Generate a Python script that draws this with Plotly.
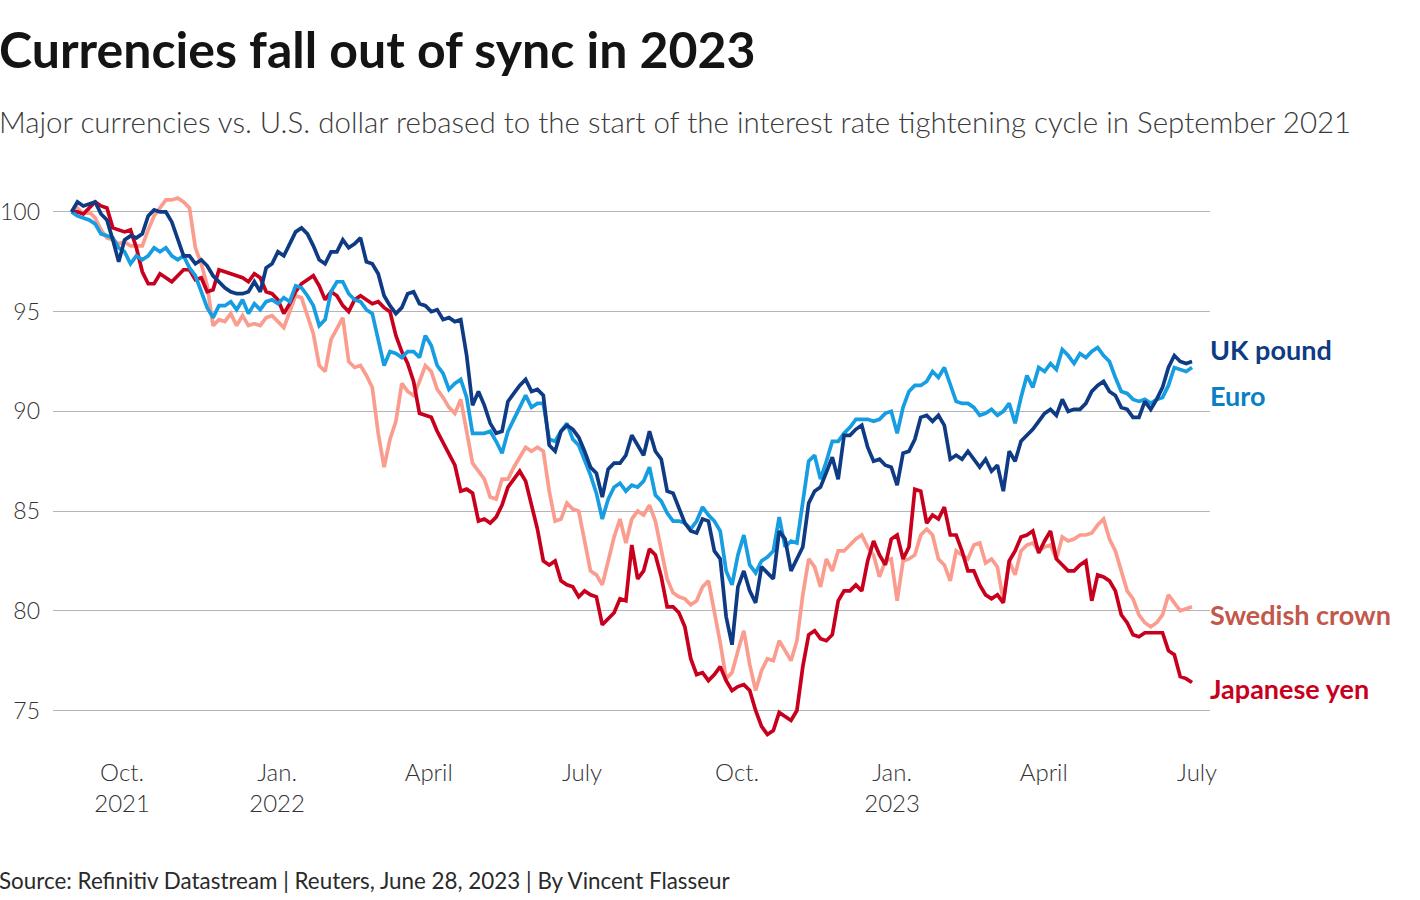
import pandas as pd
import plotly.graph_objects as go

# ---- data: rebased index (=100 at start), read twice a week ----
# values on Wednesdays (w) and on the following Saturdays (s)
start_date = "2021-09-01"

uk_pound_w = [100.0, 100.3, 100.5, 99.6, 97.5, 98.8, 98.9, 100.1, 100.0, 98.7,
              97.8, 97.6, 96.8, 96.2, 95.9, 96.0, 96.0, 97.4, 97.8, 99.0,
              98.9, 97.6, 98.0, 98.6, 98.4, 97.5, 96.9, 95.3, 95.2, 96.0,
              95.3, 95.1, 94.7, 94.6, 90.3, 90.3, 88.9, 90.5, 91.3, 91.0,
              90.8, 88.0, 89.3, 88.7, 87.2, 85.7, 87.4, 87.8, 88.3, 89.0,
              87.6, 85.9, 84.4, 83.9, 84.5, 82.6, 78.3, 82.0, 80.4, 81.9,
              84.0, 82.0, 83.2, 86.0, 87.0, 86.6, 88.8, 89.3, 87.5, 87.3,
              86.3, 88.0, 89.7, 89.5, 89.3, 87.8, 88.0, 87.2, 87.0, 86.0,
              87.5, 88.8, 89.5, 90.1, 90.6, 90.1, 90.4, 91.3, 91.0, 90.2,
              89.7, 90.5, 90.6, 92.2, 92.5, 92.5]
uk_pound_s = [100.5, 100.4, 99.9, 98.6, 98.6, 98.7, 99.8, 100.0, 99.5, 97.8,
              97.4, 97.3, 96.5, 96.0, 95.9, 96.5, 97.2, 98.0, 98.4, 99.2,
              98.3, 97.4, 98.0, 98.2, 98.7, 97.4, 95.8, 94.9, 95.9, 95.4,
              95.0, 94.6, 94.5, 92.8, 91.0, 89.4, 89.0, 90.9, 91.6, 91.1,
              88.3, 89.0, 89.1, 88.0, 86.9, 87.1, 87.4, 88.8, 87.8, 88.0,
              86.0, 85.2, 84.0, 84.6, 83.0, 79.7, 81.2, 81.0, 82.2, 81.6,
              83.6, 82.6, 85.4, 86.2, 87.7, 88.8, 89.1, 88.2, 87.6, 87.2,
              87.9, 88.6, 89.8, 89.8, 87.6, 87.6, 87.6, 87.6, 87.3, 88.0,
              88.5, 89.1, 89.9, 89.8, 90.0, 90.1, 91.0, 91.5, 90.8, 90.1,
              89.7, 90.1, 91.2, 92.8, 92.4]

euro_w = [100.0, 99.7, 99.4, 98.8, 98.2, 97.4, 97.6, 98.2, 98.2, 97.6,
          97.2, 96.0, 94.7, 95.3, 95.1, 94.9, 95.1, 95.6, 95.7, 96.3,
          95.8, 94.3, 96.0, 96.5, 95.6, 95.1, 93.6, 93.0, 92.7, 93.0,
          93.8, 92.3, 91.1, 91.6, 88.9, 88.9, 88.5, 89.0, 90.2, 90.2,
          90.4, 88.5, 89.4, 88.3, 86.8, 84.6, 86.2, 86.0, 86.2, 87.2,
          85.5, 84.5, 84.4, 84.5, 84.8, 84.0, 81.3, 83.8, 81.9, 82.7,
          84.7, 83.5, 85.4, 87.8, 87.5, 88.5, 89.2, 89.6, 89.5, 89.9,
          88.9, 91.0, 91.3, 92.0, 92.2, 90.5, 90.4, 89.8, 90.1, 90.0,
          89.4, 91.8, 92.2, 92.4, 93.1, 92.4, 92.7, 93.2, 92.5, 91.0,
          90.6, 90.6, 90.6, 91.3, 92.1, 92.2]
euro_s = [99.8, 99.6, 98.9, 98.7, 98.0, 97.8, 97.8, 98.0, 97.8, 97.8,
          96.8, 95.2, 95.3, 95.5, 95.6, 95.4, 95.5, 95.4, 95.5, 96.2,
          95.3, 94.6, 96.5, 95.9, 95.5, 94.9, 92.3, 92.9, 93.0, 92.7,
          93.3, 91.9, 91.4, 90.7, 88.9, 89.0, 87.9, 89.6, 90.8, 90.4,
          88.6, 89.0, 88.6, 87.6, 85.9, 85.6, 86.4, 86.3, 86.5, 85.8,
          84.9, 84.5, 84.1, 85.2, 84.5, 82.0, 82.8, 82.3, 82.5, 83.0,
          83.2, 83.4, 87.5, 86.6, 88.5, 88.9, 89.6, 89.6, 89.6, 90.0,
          90.2, 91.3, 91.5, 91.7, 91.4, 90.4, 90.2, 89.9, 89.8, 90.4,
          90.7, 91.2, 92.0, 92.1, 92.8, 92.9, 93.0, 92.8, 91.7, 90.9,
          90.5, 90.4, 90.7, 92.2, 92.0]

swedish_crown_w = [100.0, 99.9, 99.7, 98.7, 98.4, 98.3, 98.3, 99.8, 100.6, 100.7,
                   100.2, 97.4, 94.3, 94.5, 94.3, 94.3, 94.3, 94.8, 94.2, 95.8,
                   94.8, 92.3, 93.6, 94.7, 92.2, 91.8, 88.9, 88.6, 91.4, 90.8,
                   92.3, 91.1, 90.2, 90.6, 87.4, 86.6, 85.6, 86.6, 87.7, 88.0,
                   88.0, 84.5, 85.4, 85.0, 82.0, 81.3, 83.7, 83.4, 85.0, 85.3,
                   83.0, 80.9, 80.6, 80.5, 81.5, 78.4, 76.9, 79.0, 76.0, 77.6,
                   78.5, 77.5, 80.8, 82.2, 82.6, 83.0, 83.3, 83.8, 82.8, 82.5,
                   80.5, 82.6, 83.8, 83.8, 82.3, 83.0, 82.6, 83.4, 82.6, 80.5,
                   81.8, 83.3, 83.0, 83.3, 83.7, 83.6, 83.8, 84.3, 83.6, 82.0,
                   80.6, 79.4, 79.4, 80.8, 80.0, 80.2]
swedish_crown_s = [100.2, 100.0, 99.1, 98.6, 98.5, 98.3, 99.1, 100.2, 100.6, 100.5,
                   98.2, 96.3, 94.6, 94.9, 94.8, 94.4, 94.7, 94.5, 95.0, 95.7,
                   93.9, 92.0, 94.2, 92.5, 92.3, 91.2, 87.2, 89.5, 91.0, 91.5,
                   92.0, 90.7, 89.9, 89.0, 87.0, 85.7, 86.6, 87.2, 88.2, 88.2,
                   86.0, 84.6, 85.1, 83.5, 81.8, 82.5, 84.6, 84.6, 84.8, 84.5,
                   81.6, 80.7, 80.3, 81.2, 80.0, 76.6, 78.0, 77.3, 77.0, 77.5,
                   78.0, 78.5, 82.6, 81.2, 82.0, 83.0, 83.6, 83.2, 81.7, 82.6,
                   82.5, 82.8, 84.1, 82.6, 81.5, 82.8, 83.3, 82.4, 82.2, 82.5,
                   83.0, 83.4, 83.2, 82.6, 83.5, 83.8, 83.9, 84.6, 83.0, 81.0,
                   79.8, 79.2, 79.8, 80.4, 80.1]

japanese_yen_w = [100.0, 99.9, 100.5, 100.2, 99.1, 99.1, 97.0, 96.4, 96.7, 96.8,
                  97.1, 96.7, 96.1, 97.0, 96.8, 96.5, 96.7, 95.9, 94.9, 96.0,
                  96.6, 96.3, 96.0, 95.3, 95.6, 95.6, 95.5, 95.0, 93.0, 91.5,
                  89.8, 89.0, 87.8, 86.0, 85.9, 84.6, 84.7, 86.2, 87.0, 85.2,
                  82.5, 82.5, 81.3, 80.7, 80.8, 79.3, 79.9, 80.5, 81.6, 83.1,
                  81.7, 80.2, 79.2, 76.8, 76.5, 77.2, 76.0, 76.3, 75.0, 73.8,
                  74.9, 74.5, 77.2, 79.0, 78.5, 80.5, 81.0, 81.0, 83.5, 82.3,
                  83.8, 83.2, 86.0, 84.8, 85.2, 83.8, 82.0, 81.3, 80.6, 80.4,
                  83.0, 83.8, 82.9, 84.0, 82.3, 82.0, 82.5, 81.8, 81.5, 79.8,
                  78.8, 78.9, 78.9, 78.0, 76.7, 76.4]
japanese_yen_s = [100.0, 100.2, 100.3, 99.2, 99.0, 98.2, 96.4, 96.9, 96.5, 97.1,
                  96.6, 96.0, 97.1, 96.9, 96.7, 96.9, 96.0, 95.6, 95.4, 96.4,
                  96.8, 95.6, 95.8, 95.0, 95.8, 95.4, 95.2, 93.8, 92.4, 89.9,
                  89.7, 88.4, 87.3, 86.1, 84.5, 84.4, 85.3, 86.6, 86.5, 84.1,
                  82.3, 81.5, 81.2, 81.0, 80.7, 79.6, 80.6, 83.3, 82.0, 82.8,
                  80.2, 79.9, 77.6, 76.9, 76.8, 76.5, 76.2, 76.0, 74.2, 74.0,
                  74.7, 75.0, 78.8, 78.6, 78.8, 81.0, 81.3, 82.5, 82.8, 83.6,
                  82.6, 86.1, 84.4, 84.6, 83.8, 83.0, 82.0, 80.8, 80.8, 82.5,
                  83.7, 84.0, 83.5, 82.6, 82.0, 82.3, 80.5, 81.7, 81.0, 79.4,
                  78.7, 78.9, 78.9, 77.8, 76.6]

x_tick_vals = ["2021-10-01", "2022-01-01", "2022-04-01", "2022-07-01",
               "2022-10-01", "2023-01-01", "2023-04-01", "2023-07-01"]
x_tick_text = ["Oct.<br>2021", "Jan.<br>2022", "April", "July",
               "Oct.", "Jan.<br>2023", "April", "July"]
y_tick_vals = [75, 80, 85, 90, 95, 100]

series_names = ["Swedish crown", "Japanese yen", "Euro", "UK pound"]
series_parts = [(swedish_crown_w, swedish_crown_s), (japanese_yen_w, japanese_yen_s),
                (euro_w, euro_s), (uk_pound_w, uk_pound_s)]
line_colors = ["#fa9d8f", "#c8001e", "#169de2", "#0e3b84"]
label_colors = ["#c2574c", "#c8001e", "#0a7fc6", "#0e3b84"]
label_y = [79.8, 76.1, 90.8, 93.1]


def interleave(w, s):
    out = []
    for i, v in enumerate(w):
        out.append(v)
        if i < len(s):
            out.append(s[i])
    return out


wed_dates = pd.date_range(start_date, periods=len(uk_pound_w), freq="7D")
dates = []
for i, d in enumerate(wed_dates):
    dates.append(d)
    if i < len(uk_pound_s):
        dates.append(d + pd.Timedelta(hours=84))

FONT = "Source Sans Pro, Lato, sans-serif"

fig = go.Figure()
for name, (w, s), col in zip(series_names, series_parts, line_colors):
    fig.add_trace(go.Scatter(x=dates, y=interleave(w, s), mode="lines", name=name,
                             line=dict(color=col, width=3.7), hoverinfo="skip"))

annotations = []
for name, ly, col in zip(series_names, label_y, label_colors):
    annotations.append(dict(text=f"<b>{name}</b>", x=1.0, xref="paper", y=ly, yref="y",
                            xanchor="left", yanchor="middle", showarrow=False, xshift=-2,
                            font=dict(family=FONT, size=27, color=col)))

PL, PT, PW, PH = 53, 190, 1157, 560


def px_x(px):
    return (px - PL) / PW


def px_y(py):
    return (PT + PH - py) / PH


annotations.append(dict(text="<b>Currencies fall out of sync in 2023</b>", x=px_x(0), y=px_y(49),
                        xref="paper", yref="paper", xanchor="left", yanchor="middle", xshift=-3,
                        showarrow=False, font=dict(family=FONT, size=50, color="#141414")))
annotations.append(dict(text="Major currencies vs. U.S. dollar rebased to the start of the interest rate tightening cycle in September 2021",
                        x=px_x(0), y=px_y(121), xref="paper", yref="paper", xanchor="left", yanchor="middle",
                        xshift=-3, showarrow=False, font=dict(family=FONT, size=29.5, color="#3a3a3a", weight=300)))
annotations.append(dict(text="Source: Refinitiv Datastream | Reuters, June 28, 2023 | By Vincent Flasseur",
                        x=px_x(0), y=px_y(880), xref="paper", yref="paper", xanchor="left", yanchor="middle",
                        xshift=-3, showarrow=False, font=dict(family=FONT, size=22.4, color="#2a2a2a")))

fig.update_layout(
    width=1420, height=900,
    margin=dict(l=PL, r=1420 - PL - PW, t=PT, b=900 - PT - PH),
    paper_bgcolor="white", plot_bgcolor="white",
    showlegend=False,
    annotations=annotations,
    font=dict(family=FONT),
)
fig.update_xaxes(range=["2021-08-21", "2023-07-08 16:00"], tickvals=x_tick_vals, ticktext=x_tick_text,
                 showgrid=False, zeroline=False, showline=False, ticks="", automargin=False,
                 tickfont=dict(family=FONT, size=24, color="#333333", weight=300), ticklabelstandoff=6)
fig.update_yaxes(range=[73.02, 101.1], tickvals=y_tick_vals, showgrid=True, gridcolor="#b5b5b5",
                 gridwidth=1, zeroline=False, showline=False, ticks="", automargin=False,
                 tickfont=dict(family=FONT, size=23, color="#333333", weight=300), ticklabelstandoff=12)

fig.write_html("out.html", config={"displayModeBar": False},
               post_script="document.body.style.margin='0';")
